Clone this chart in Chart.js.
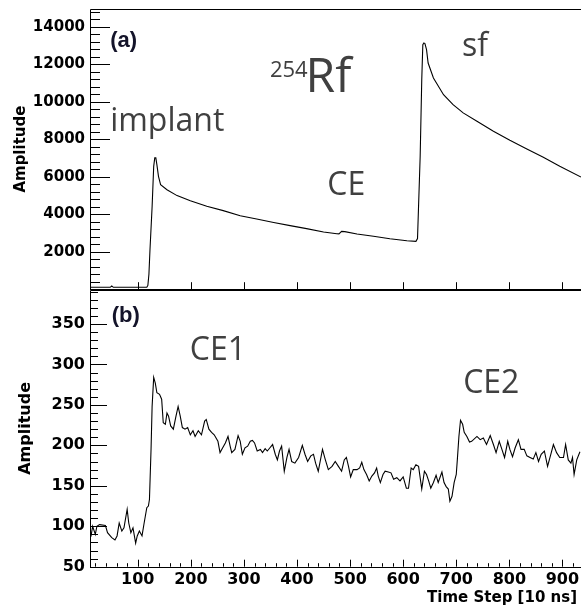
<!DOCTYPE html>
<html>
<head>
<meta charset="utf-8">
<script src="https://cdn.jsdelivr.net/npm/chart.js@4.4.0/dist/chart.umd.min.js"></script>
<style>
  html, body { margin: 0; padding: 0; background: #fff; overflow: hidden; }
  #wrap { position: relative; width: 581px; height: 611px; }
  canvas { position: absolute; left: 0; }
  #topChart { top: 0; }
  #bottomChart { top: 290px; }
</style>
</head>
<body>
<div id="wrap">
  <canvas id="topChart" width="581" height="290"></canvas>
  <canvas id="bottomChart" width="581" height="321"></canvas>
</div>
<script>
// (a) implant + sf trace of 254Rf
const topX = [10, 48, 51, 54, 117, 119, 121, 123, 127, 130, 132, 134, 136, 139, 143, 155, 174, 199, 230, 261,
  293, 324, 356, 387, 418, 450, 475, 479, 484, 490, 513, 544, 575, 607, 624, 627, 632, 635, 637, 639,
  641, 644, 647, 657, 676, 694, 713, 739, 770, 801, 833, 864, 895, 935];
const topY = [100, 100, 170, 100, 100, 200, 800, 2100, 4400, 6550, 7000, 7000, 6640, 6020, 5570, 5300, 4990, 4720, 4420, 4190,
  3920, 3740, 3560, 3390, 3230, 3050, 2960, 2950, 3080, 3070, 2940, 2820, 2690, 2580, 2550, 2700, 7080, 11170, 13040, 13130,
  13100, 12770, 12060, 11260, 10370, 9840, 9400, 8950, 8420, 7940, 7480, 7030, 6550, 5980];

// (b) conversion electron trace
const bottomX = [10, 12, 15, 20, 23, 28, 39, 43, 51, 57, 61,
  65, 70, 74, 80, 83, 87, 91, 96, 99, 103,
  108, 112, 117, 120, 122, 125, 127, 130, 133, 136,
  141, 145, 148, 152, 155, 158, 162, 167, 172, 176,
  180, 184, 189, 194, 199, 204, 208, 214, 220, 226,
  229, 234, 239, 244, 251, 255, 260, 265, 270, 274,
  277, 283, 289, 293, 297, 302, 307, 312, 316, 320,
  325, 331, 335, 340, 344, 349, 354, 359, 363, 367,
  371, 376, 381, 385, 390, 396, 403, 410, 415, 420,
  426, 431, 435, 440, 448, 453, 459, 466, 472, 478,
  484, 489, 493, 497, 501, 506, 513, 518, 522, 526,
  531, 536, 541, 546, 550, 553, 557, 562, 566, 572,
  577, 582, 588, 594, 600, 606, 610, 615, 619, 624,
  629, 635, 640, 644, 648, 652, 657, 662, 666, 673,
  677, 681, 685, 688, 692, 696, 700, 702, 705, 708,
  712, 715, 720, 725, 729, 739, 745, 751, 757, 764,
  770, 775, 781, 786, 791, 797, 801, 806, 811, 817,
  822, 828, 833, 839, 845, 850, 855, 860, 866, 872,
  879, 883, 889, 895, 902, 906, 911, 916, 919, 922,
  927, 933];
const bottomY = [85, 88, 100, 90, 100, 102, 101, 92, 86, 83, 88,
  104, 94, 98, 121, 104, 92, 98, 79, 88, 94,
  88, 104, 123, 125, 133, 195, 248, 284, 277, 265,
  263, 257, 228, 226, 240, 236, 224, 220, 236, 248,
  236, 222, 220, 222, 213, 218, 211, 218, 213, 230,
  232, 220, 216, 213, 205, 191, 197, 203, 211, 199,
  191, 195, 212, 205, 189, 197, 199, 205, 206, 203,
  193, 195, 191, 196, 193, 197, 201, 189, 182, 193,
  199, 168, 185, 195, 180, 178, 185, 200, 189, 180,
  187, 189, 178, 168, 195, 183, 170, 174, 180, 174,
  168, 182, 185, 174, 161, 170, 170, 172, 179, 170,
  164, 156, 162, 166, 172, 162, 154, 164, 168, 167,
  166, 158, 160, 156, 161, 147, 147, 172, 170, 176,
  174, 146, 168, 164, 156, 147, 154, 163, 154, 167,
  154, 149, 146, 131, 137, 154, 164, 182, 211, 231,
  226, 216, 211, 204, 205, 211, 207, 209, 201, 212,
  201, 191, 205, 195, 185, 205, 195, 186, 197, 207,
  195, 195, 187, 185, 183, 191, 180, 189, 193, 174,
  191, 201, 191, 185, 185, 201, 182, 178, 185, 164,
  182, 192];

// tick labels
const xTicks = [100, 200, 300, 400, 500, 600, 700, 800, 900];
const topYTicks = [2000, 4000, 6000, 8000, 10000, 12000, 14000];
const bottomYTicks = [50, 100, 150, 200, 250, 300, 350];

const X_MIN = 10, X_MAX = 935;
const GREY = '#404040';
const tickFont = size => ({ family: 'DejaVu Sans', weight: 'bold', size: size });
const noteFont = size => ({ family: 'Open Sans', size: size });

// ROOT style frame with ticks pointing into the plot
function rootFrame(cfg) {
  return {
    id: 'rootFrame',
    afterDraw(chart) {
      const { ctx, chartArea: a, scales: { x, y } } = chart;
      const px = v => Math.round(v) + 0.5;
      ctx.save();
      ctx.strokeStyle = '#000';
      ctx.lineWidth = 1;
      ctx.beginPath();
      ctx.moveTo(a.right + 2, px(a.top));
      ctx.lineTo(px(a.left), px(a.top));
      ctx.lineTo(px(a.left), px(a.bottom));
      ctx.lineTo(a.right + 2, px(a.bottom));
      for (let v = Math.ceil(y.min / cfg.yMinor) * cfg.yMinor; v <= y.max; v += cfg.yMinor) {
        const len = v % cfg.yMajor === 0 ? cfg.yMajorLen : cfg.yMinorLen;
        const yy = px(y.getPixelForValue(v));
        ctx.moveTo(a.left, yy);
        ctx.lineTo(a.left + len, yy);
      }
      for (let v = Math.ceil(x.min / cfg.xMinor) * cfg.xMinor; v <= x.max; v += cfg.xMinor) {
        const len = v % cfg.xMajor === 0 ? cfg.xMajorLen : cfg.xMinorLen;
        if (!len) continue;
        const xx = px(x.getPixelForValue(v));
        ctx.moveTo(xx, a.bottom);
        ctx.lineTo(xx, a.bottom - len);
      }
      ctx.stroke();
      ctx.restore();
    }
  };
}

// text notes placed in data coordinates
function notes(list) {
  return {
    id: 'notes',
    afterDatasetsDraw(chart) {
      const { ctx, scales: { x, y } } = chart;
      ctx.save();
      ctx.textAlign = 'left';
      ctx.textBaseline = 'alphabetic';
      list.forEach(n => {
        const f = n.font;
        ctx.font = (f.weight || 'normal') + ' ' + f.size + 'px "' + f.family + '"';
        ctx.fillStyle = n.color;
        ctx.fillText(n.text, x.getPixelForValue(n.x), y.getPixelForValue(n.y));
      });
      ctx.restore();
    }
  };
}

const xTitle = {
  id: 'xTitle',
  afterDraw(chart) {
    const { ctx, scales: { x } } = chart;
    ctx.save();
    ctx.font = 'bold 15px "DejaVu Sans"';
    ctx.fillStyle = '#000';
    ctx.textAlign = 'right';
    ctx.textBaseline = 'alphabetic';
    ctx.fillText('Time Step [10 ns]', x.right - 4, x.top + 35);
    ctx.restore();
  }
};

function lineData(xs, ys) {
  return {
    datasets: [{
      data: xs.map((v, i) => ({ x: v, y: ys[i] })),
      borderColor: '#000',
      borderWidth: 1.1,
      pointRadius: 0,
      tension: 0,
      fill: false
    }]
  };
}

const useTicks = list => s => { s.ticks = list.map(v => ({ value: v })); };

function yScale(min, max, list, size, titlePad) {
  return {
    min: min, max: max,
    grid: { display: false, drawTicks: false },
    border: { display: false },
    afterBuildTicks: useTicks(list),
    ticks: { padding: 5, color: '#000', font: tickFont(size), callback: v => String(v) },
    title: { display: true, text: 'Amplitude', color: '#000', font: tickFont(size), padding: { top: titlePad } },
    afterFit: s => { s.width = 90; s.paddingTop = 0; s.paddingBottom = 0; }
  };
}

const common = {
  responsive: false,
  animation: false,
  events: [],
  devicePixelRatio: 1,
  plugins: { legend: { display: false }, tooltip: { enabled: false } }
};

new Chart(document.getElementById('topChart'), {
  type: 'line',
  data: lineData(topX, topY),
  options: Object.assign({}, common, {
    layout: { padding: { top: 9, bottom: 0.8, left: 0, right: 0 } },
    scales: {
      x: { type: 'linear', display: false, min: X_MIN, max: X_MAX },
      y: yScale(0, 14940, topYTicks, 15, 12)
    }
  }),
  plugins: [
    rootFrame({ yMinor: 400, yMajor: 2000, yMajorLen: 20, yMinorLen: 10, xMinor: 100, xMajor: 100, xMajorLen: 7, xMinorLen: 0 }),
    notes([
      { text: '(a)', x: 48, y: 12890, font: { family: 'Liberation Sans', weight: 'bold', size: 22 }, color: '#14142a' },
      { text: 'implant', x: 48, y: 8440, font: noteFont(32), color: GREY },
      { text: '254', x: 349, y: 11300, font: noteFont(22), color: GREY },
      { text: 'Rf', x: 416, y: 10500, font: noteFont(48), color: GREY },
      { text: 'CE', x: 457, y: 5000, font: noteFont(32), color: GREY },
      { text: 'sf', x: 711, y: 12460, font: noteFont(32), color: GREY }
    ])
  ]
});

new Chart(document.getElementById('bottomChart'), {
  type: 'line',
  data: lineData(bottomX, bottomY),
  options: Object.assign({}, common, {
    layout: { padding: { top: 0, bottom: 0, left: 0, right: 0 } },
    scales: {
      x: {
        type: 'linear', min: X_MIN, max: X_MAX,
        grid: { display: false, drawTicks: false },
        border: { display: false },
        afterBuildTicks: useTicks(xTicks),
        ticks: { autoSkip: false, maxRotation: 0, padding: 4, color: '#000', font: tickFont(16), callback: v => String(v) },
        afterFit: s => { s.height = 44.3; s.paddingLeft = 0; s.paddingRight = 0; }
      },
      y: yScale(50, 392, bottomYTicks, 16, 16)
    }
  }),
  plugins: [
    rootFrame({ yMinor: 10, yMajor: 50, yMajorLen: 17, yMinorLen: 8, xMinor: 20, xMajor: 100, xMajorLen: 7, xMinorLen: 3.5 }),
    notes([
      { text: '(b)', x: 51, y: 353, font: { family: 'Liberation Sans', weight: 'bold', size: 22 }, color: '#14142a' },
      { text: 'CE1', x: 198, y: 305, font: noteFont(32), color: GREY },
      { text: 'CE2', x: 713, y: 265, font: noteFont(32), color: GREY }
    ]),
    xTitle
  ]
});
</script>
</body>
</html>
